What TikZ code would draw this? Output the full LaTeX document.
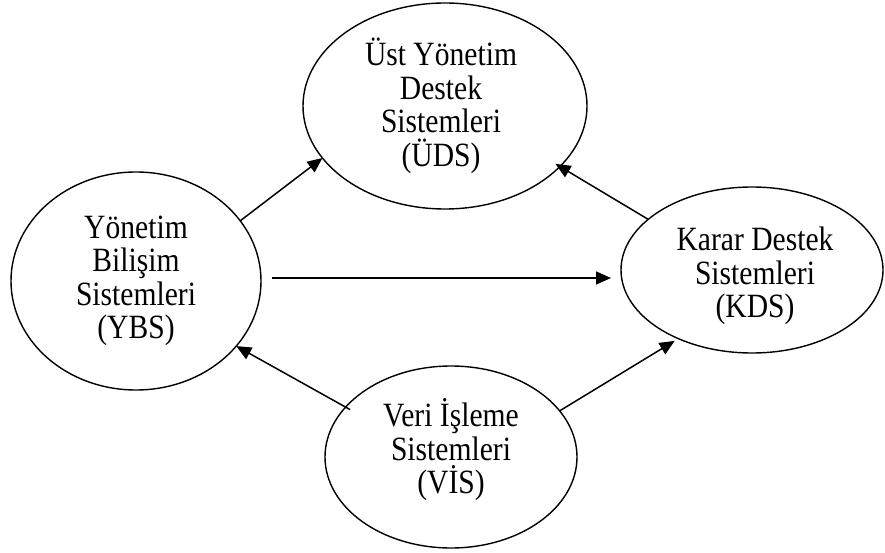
\documentclass[tikz,border=0pt]{standalone}
\usepackage{fontspec}
\setmainfont{Liberation Serif}
\newfontfamily\tallserif[FakeStretch=0.87]{Liberation Serif}
\usetikzlibrary{arrows.meta,shapes.geometric,calc}
\begin{document}
\begin{tikzpicture}[x=1pt,y=1pt,
  sysnode/.style={ellipse,draw=black,line width=1.4pt,inner sep=0pt,outer sep=0pt},
  systext/.style={align=center,inner sep=0pt,font=\tallserif\fontsize{34}{33.5}\selectfont},
  arr/.style={line width=1.5pt,-{Triangle[length=15pt,width=13pt]}}]
\useasboundingbox (0,0) rectangle (885,552);
\node[sysnode,minimum width=284pt,minimum height=206pt] (uds) at (445,446) {};
\node[sysnode,minimum width=250pt,minimum height=218pt] (ybs) at (136,271) {};
\node[sysnode,minimum width=262pt,minimum height=166pt] (kds) at (752,282) {};
\node[sysnode,minimum width=252pt,minimum height=182pt] (vis) at (451,95) {};
\node[systext] (udst) at (441,446) {Üst Yönetim\\Destek\\Sistemleri\\(ÜDS)};
\node[systext] (ybst) at (136,271) {Yönetim\\Bilişim\\Sistemleri\\(YBS)};
\node[systext] (kdst) at (755,276) {Karar Destek\\Sistemleri\\(KDS)};
\node[systext] (vist) at (451,102) {Veri İşleme\\Sistemleri\\(VİS)};
\draw[arr] (ybs.30) -- (uds.203);
\draw[arr] ($(ybs.east)+(11,3)$) -- ($(kds.west)+(-10,-8)$);
\draw[arr] (kds.154) -- ($(uds.-28)+(-4,3)$);
\draw[arr] ($(vis.155)+(5,-2)$) -- (ybs.-33);
\draw[arr] (vis.23) -- ($(kds.222)+(-2,-3)$);
\end{tikzpicture}
\end{document}
